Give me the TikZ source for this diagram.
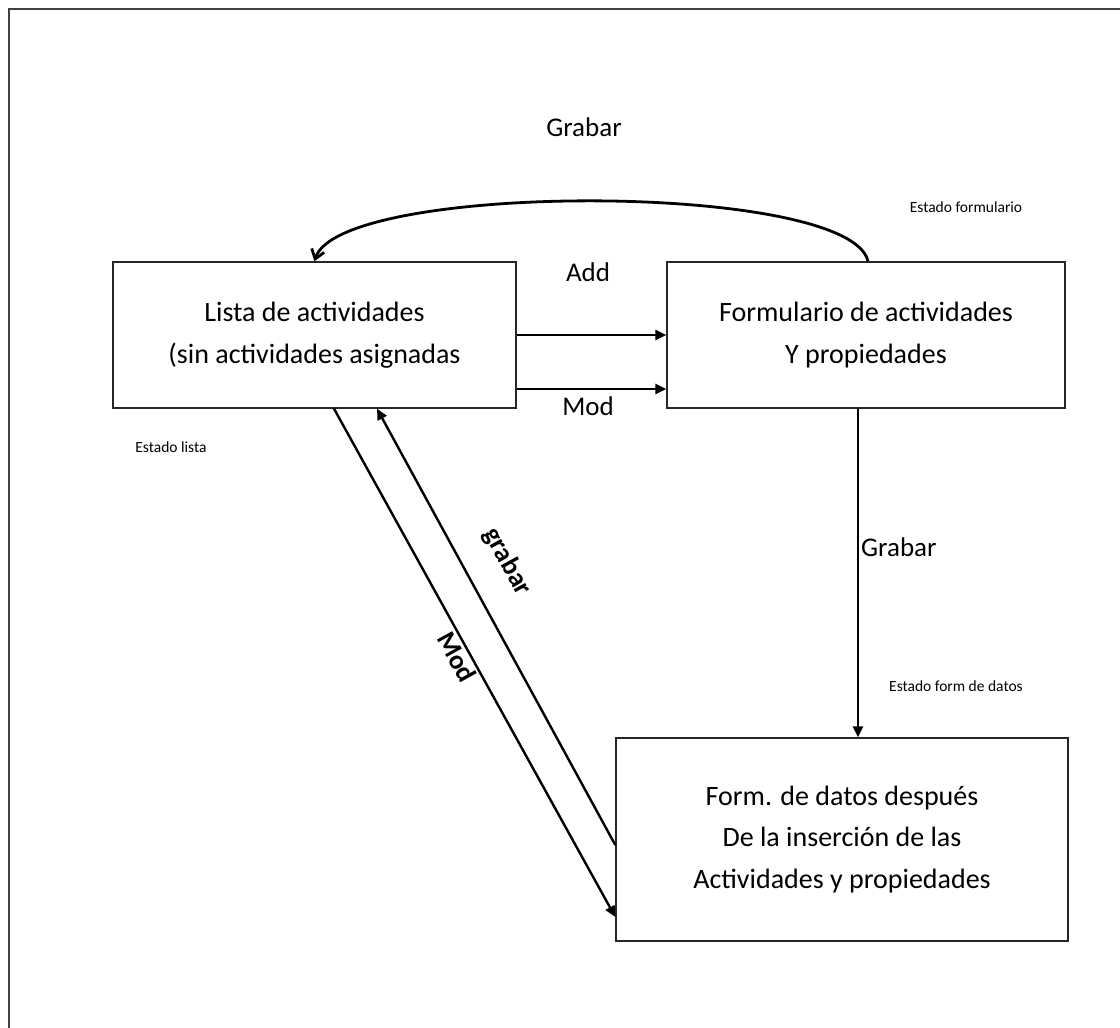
\documentclass[tikz,border=0pt]{standalone}
\usepackage{fontspec}
\setmainfont{Carlito}
\usetikzlibrary{arrows.meta,calc}
\begin{document}
\begin{tikzpicture}[x=1pt,y=-1pt,
  box/.style={draw=black!85, line width=1.4pt, rectangle, inner sep=0pt},
  boxtext/.style={align=center, inner sep=0pt, font=\fontsize{28}{41.5}\selectfont},
  lbl/.style={inner sep=0pt, font=\fontsize{27}{32}\selectfont},
  small/.style={inner sep=0pt, font=\fontsize{15.5}{18}\selectfont},
  difflbl/.style={inner sep=0pt, font=\fontsize{27}{32}\selectfont\bfseries, rotate=-61},
  arr/.style={line width=2.8pt, -{Triangle[length=11pt,width=10pt]}},
  darr/.style={line width=2.4pt, -{Triangle[length=11pt,width=10pt]}},
]
\useasboundingbox (0,0) rectangle (1120,1028);
% page frame
\draw[line width=2.5pt, draw=black!75] (9,1030) -- (9,9) -- (1122,9);

% state boxes
\node[box, minimum width=403pt, minimum height=146pt] (A) at (314.5,335) {};
\node[boxtext] (At) at (A) {Lista de actividades\\(sin actividades asignadas};
\node[box, minimum width=398pt, minimum height=146pt] (B) at (866,335) {};
\node[boxtext] (Bt) at (B) {Formulario de actividades\\Y propiedades};
\node[box, minimum width=452pt, minimum height=203pt] (C) at (842,839.5) {};
\node[boxtext] (Ct) at (C) {Form. de datos después\\De la inserción de las\\Actividades y propiedades};

% transitions
\draw[line width=2.8pt, -{Straight Barb[length=9pt,width=13pt]}]
  ([xshift=2pt]B.north) .. controls +(-18,-80) and +(25,-80) .. (A.north);
\draw[arr] (A.east) -- (A.east -| B.west);
\draw[arr] ([yshift=-54pt]A.east) -- ([yshift=-54pt]A.east -| B.west);
\draw[arr] ([xshift=-8pt]B.south) -- ([xshift=-8pt]B.south |- C.north);
\draw[darr] ([xshift=19.5pt]A.south) -- ([yshift=-77.5pt]C.west);
\draw[darr] ([yshift=-5.5pt]C.west) -- ([xshift=62.5pt]A.south);

% labels
\node[lbl] (lgrabar) at (584,127) {Grabar};
\node[small] (lestform) at (966,207) {Estado formulario};
\node[lbl] (ladd) at (588,272) {Add};
\node[lbl] (lmod) at (588,406) {Mod};
\node[small] (lestlista) at (171,447) {Estado lista};
\node[lbl, anchor=west] (lgrabar2) at (861,547) {Grabar};
\node[small] (lestdatos) at (956,686) {Estado form de datos};
\node[difflbl] (lgrabar3) at (507,562) {grabar};
\node[difflbl] (lmod2) at (457,657) {Mod};
\end{tikzpicture}
\end{document}
